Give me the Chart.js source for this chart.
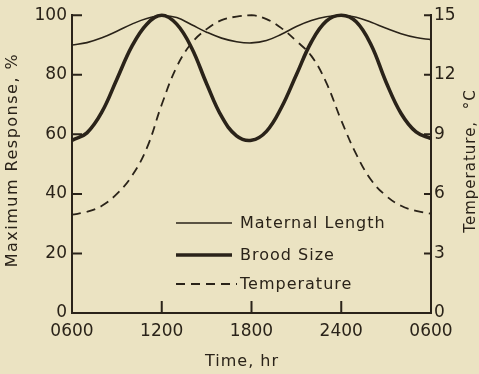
<!DOCTYPE html>
<html>
<head>
<meta charset="utf-8">
<script src="https://cdn.jsdelivr.net/npm/chart.js@4.4.1/dist/chart.umd.min.js"></script>
<style>
  html, body { margin: 0; padding: 0; background: #ebe3c2; }
  #wrap { width: 479px; height: 374px; }
</style>
</head>
<body>
<div id="wrap"><canvas id="chart" width="479" height="374"></canvas></div>
<script>
// hours after 0600
const hours = [0, 1, 2, 3, 4, 5, 6, 7, 8, 9, 10, 11, 12, 13, 14, 15, 16, 17, 18, 19, 20, 21, 22, 23, 24]
const maternalLength = [90, 90.8, 92.4, 94.6, 97, 98.9, 99.8, 99.2, 96.8, 94.3, 92.3, 91.1, 90.7, 91.5, 93.6, 96.2, 98.2, 99.5, 100, 99.3, 97.6, 95.6, 93.8, 92.5, 91.8]
const broodSize = [58, 60.5, 67.5, 78.5, 89.5, 97, 100, 97, 89, 77, 66, 59.5, 58, 61, 69, 80, 91, 98, 100, 97.8, 90, 77.5, 67, 60.8, 58.6]
const temperatureC = [4.95, 5.1, 5.4, 6.0, 6.9, 8.3, 10.5, 12.4, 13.6, 14.3, 14.75, 14.93, 15, 14.8, 14.35, 13.7, 12.95, 11.6, 9.7, 8.0, 6.7, 5.9, 5.4, 5.15, 5.0]
const xTickLabels = ['0600', '1200', '1800', '2400', '0600']
const seriesNames = ['Maternal Length', 'Brood Size', 'Temperature']

const ink = '#2a2319'
const font = 'DejaVu Sans'

const pts = (ys) => hours.map((h, i) => ({ x: h, y: ys[i] }))

// ticks inside, titles, legend
const decor = {
  id: 'decor',
  afterDraw(chart) {
    const { ctx, chartArea, scales } = chart
    const { x, y, y1 } = scales
    ctx.save()
    ctx.strokeStyle = ink
    ctx.fillStyle = ink
    ctx.lineWidth = 2
    ctx.beginPath()
    y.ticks.forEach(t => {
      const py = y.getPixelForValue(t.value)
      ctx.moveTo(chartArea.left, py); ctx.lineTo(chartArea.left + 10, py)
    })
    y1.ticks.forEach(t => {
      const py = y1.getPixelForValue(t.value)
      ctx.moveTo(chartArea.right, py); ctx.lineTo(chartArea.right - 7, py)
    })
    x.ticks.forEach(t => {
      const px = x.getPixelForValue(t.value)
      ctx.moveTo(px, chartArea.bottom); ctx.lineTo(px, chartArea.bottom - 12)
    })
    ctx.stroke()

    // axis titles
    ctx.letterSpacing = '1.5px'
    ctx.font = '16px "' + font + '"'
    ctx.textAlign = 'center'
    ctx.textBaseline = 'middle'
    ctx.save()
    ctx.translate(13, 160)
    ctx.rotate(-Math.PI / 2)
    ctx.fillText('Maximum Response, %', 0, 0)
    ctx.restore()
    ctx.letterSpacing = '1px'
    ctx.font = '15px "' + font + '"'
    ctx.save()
    ctx.translate(471, 161)
    ctx.rotate(-Math.PI / 2)
    ctx.fillText('Temperature,  °C', 0, 0)
    ctx.restore()
    ctx.font = '16px "' + font + '"'
    ctx.fillText('Time, hr', 242, 362)

    // legend
    const rows = [223, 255, 284]
    ctx.textAlign = 'left'
    chart.data.datasets.forEach((ds, i) => {
      ctx.save()
      ctx.lineWidth = ds.borderWidth
      ctx.setLineDash(ds.borderDash || [])
      ctx.beginPath()
      ctx.moveTo(176, rows[i]); ctx.lineTo(i === 2 ? 237 : 232, rows[i])
      ctx.stroke()
      ctx.restore()
      ctx.fillText(ds.label, 240, rows[i] + 1)
    })
    ctx.restore()
  }
}

const tickFont = { family: font, size: 17 }

new Chart(document.getElementById('chart'), {
  type: 'line',
  data: {
    datasets: [{
      label: seriesNames[0],
      data: pts(maternalLength),
      yAxisID: 'y',
      borderColor: ink,
      borderWidth: 1.6,
      pointRadius: 0,
      tension: 0.4
    }, {
      label: seriesNames[1],
      data: pts(broodSize),
      yAxisID: 'y',
      borderColor: ink,
      borderWidth: 3.6,
      pointRadius: 0,
      tension: 0.4
    }, {
      label: seriesNames[2],
      data: pts(temperatureC),
      yAxisID: 'y1',
      borderColor: ink,
      borderWidth: 1.8,
      borderDash: [9, 6],
      pointRadius: 0,
      tension: 0.4
    }]
  },
  options: {
    responsive: false,
    animation: false,
    clip: false,
    layout: { padding: { top: 15, left: 0, right: 0, bottom: 0 } },
    plugins: {
      legend: { display: false },
      tooltip: { enabled: false }
    },
    scales: {
      x: {
        type: 'linear',
        min: 0,
        max: 24,
        afterFit: (s) => { s.height = 61 },
        border: { display: true, color: ink, width: 2 },
        grid: { drawOnChartArea: false, drawTicks: false },
        ticks: {
          stepSize: 6,
          padding: 8,
          color: ink,
          font: tickFont,
          maxRotation: 0,
          callback: (v) => xTickLabels[v / 6]
        }
      },
      y: {
        position: 'left',
        min: 0,
        max: 100,
        afterFit: (s) => { s.width = 72 },
        border: { display: true, color: ink, width: 2 },
        grid: { drawOnChartArea: false, drawTicks: false },
        ticks: { stepSize: 20, padding: 5, color: ink, font: tickFont }
      },
      y1: {
        position: 'right',
        min: 0,
        max: 15,
        afterFit: (s) => { s.width = 48 },
        border: { display: true, color: ink, width: 2 },
        grid: { drawOnChartArea: false, drawTicks: false },
        ticks: { stepSize: 3, padding: 3, color: ink, font: tickFont }
      }
    }
  },
  plugins: [decor]
})
</script>
</body>
</html>
